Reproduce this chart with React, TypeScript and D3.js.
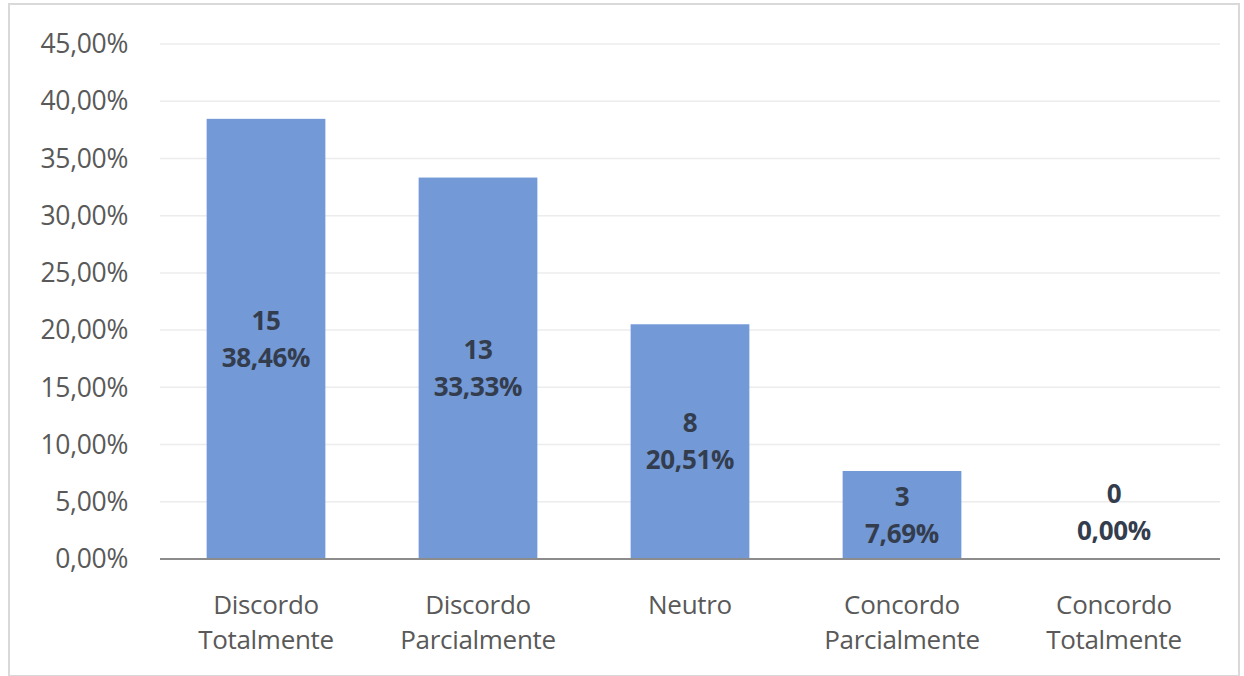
import React from "react";
import * as d3 from "d3";

const categories: string[][] = [
  ["Discordo", "Totalmente"],
  ["Discordo", "Parcialmente"],
  ["Neutro"],
  ["Concordo", "Parcialmente"],
  ["Concordo", "Totalmente"],
];
const counts: number[] = [15, 13, 8, 3, 0];
const percents: number[] = [38.46, 33.33, 20.51, 7.69, 0.0];
const yTicks: number[] = [0, 5, 10, 15, 20, 25, 30, 35, 40, 45];

const W = 1244;
const H = 676;
const margin = { left: 160, right: 24, top: 44, bottom: 117 };
const FONT = "'Open Sans', Lato, 'DejaVu Sans', sans-serif";
const fmt = (v: number) => v.toFixed(2).replace(".", ",") + "%";

export default function App() {
  const x = d3
    .scaleBand<number>()
    .domain(d3.range(categories.length))
    .range([margin.left, W - margin.right])
    .paddingInner(0.44)
    .paddingOuter(0.22);
  const y = d3.scaleLinear().domain([0, 45]).range([H - margin.bottom, margin.top]);

  return (
    <svg width={W} height={H} style={{ position: "absolute", left: 0, top: 0, background: "#fff" }}>
      <rect x={9} y={4} width={W - 14} height={H - 4} fill="#fff" stroke="#d9d9d9" strokeWidth={2} />
      {yTicks.map((t) => (
        <g key={t}>
          {t > 0 && (
            <line x1={margin.left} x2={W - margin.right} y1={y(t)} y2={y(t)} stroke="#ececec" strokeWidth={1.5} />
          )}
          <text
            x={128}
            y={y(t)}
            dy="0.35em"
            textAnchor="end"
            fontFamily={FONT}
            fontSize={26.5}
            fill="#595959"
            letterSpacing={-0.3}
          >
            {fmt(t)}
          </text>
        </g>
      ))}
      {percents.map((p, i) => (
        <rect
          key={i}
          x={x(i)!}
          y={y(p)}
          width={x.bandwidth()}
          height={y(0) - y(p)}
          fill="#7399d7"
        />
      ))}
      <line x1={margin.left} x2={W - margin.right} y1={y(0)} y2={y(0)} stroke="#8c8c8c" strokeWidth={2} />
      {percents.map((p, i) => {
        const cx = x(i)! + x.bandwidth() / 2;
        const mid = p > 0 ? (y(p) + y(0)) / 2 : y(0) - 47;
        return (
          <text
            key={i}
            textAnchor="middle"
            fontFamily={FONT}
            fontSize={26}
            fontWeight="bold"
            fill="#333d4d"
            letterSpacing={-0.3}
          >
            <tspan x={cx} y={mid - 18.5} dy="0.35em">
              {counts[i]}
            </tspan>
            <tspan x={cx} y={mid + 18.5} dy="0.35em">
              {fmt(p)}
            </tspan>
          </text>
        );
      })}
      {categories.map((lines, i) => {
        const cx = x(i)! + x.bandwidth() / 2;
        return (
          <text key={i} textAnchor="middle" fontFamily={FONT} fontSize={26} fill="#595959" letterSpacing={-0.3}>
            {lines.map((l, j) => (
              <tspan key={j} x={cx} y={605 + j * 35} dy="0.35em">
                {l}
              </tspan>
            ))}
          </text>
        );
      })}
    </svg>
  );
}
